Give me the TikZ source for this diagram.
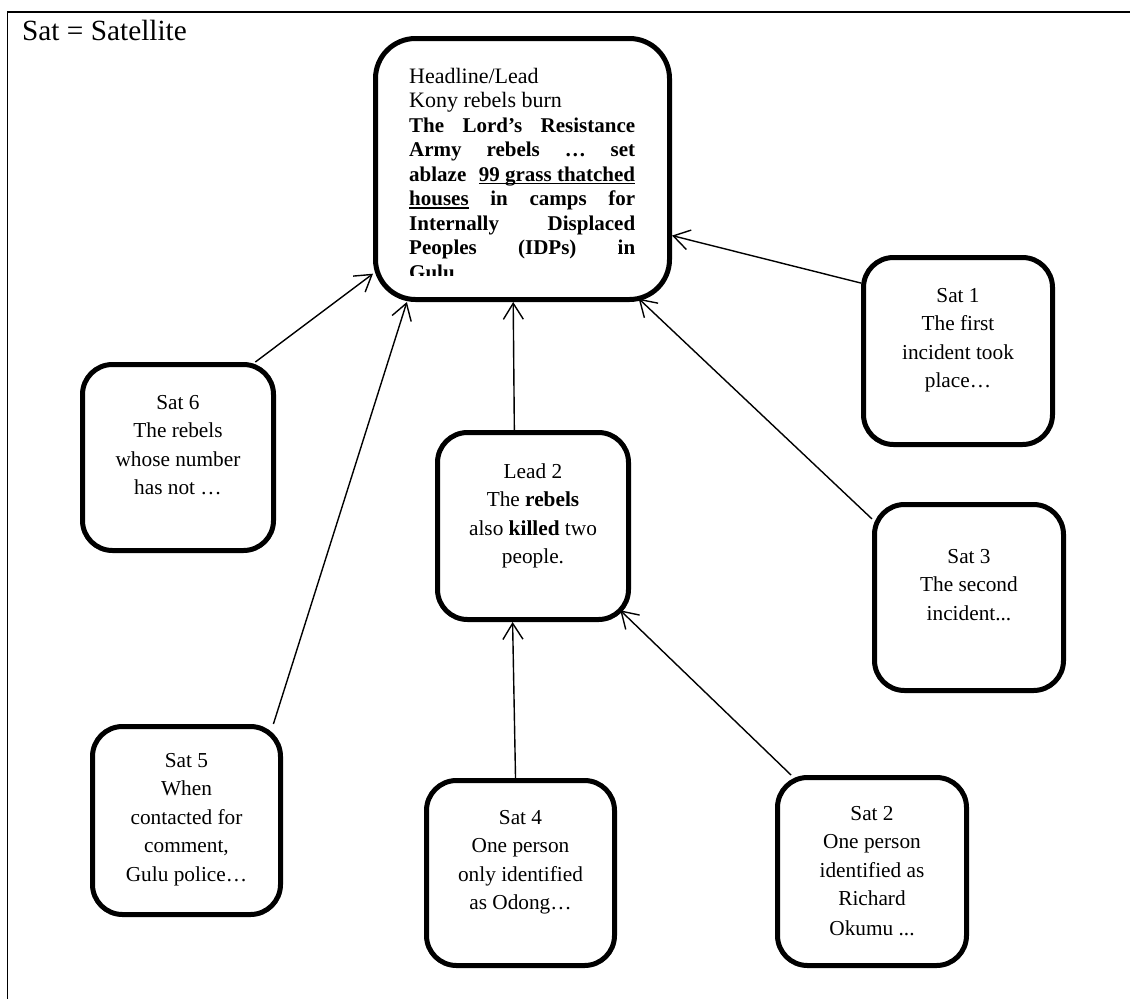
\documentclass[tikz,border=0pt]{standalone}
\usepackage{fontspec}
\setmainfont{Liberation Serif}
\usetikzlibrary{arrows.meta}
% underline drawn just under the baseline, crossing descenders
\newcommand\wordul[1]{\leavevmode\setbox0\hbox{#1}\rlap{\rule[-3pt]{\wd0}{1.3pt}}\box0\relax}
\tikzset{
  box/.style={draw, line width=5pt, rounded corners=30pt, inner sep=0pt},
  bigbox/.style={box, rounded corners=40pt},
  sattext/.style={anchor=base, inner sep=0pt,
    font=\fontsize{21.3}{28.5}\selectfont},
  link/.style={line width=1.4pt, -{Straight Barb[length=16pt,width=20pt]}}
}
\begin{document}
\begin{tikzpicture}[x=1pt,y=-1pt]
\useasboundingbox (0,0) rectangle (1130,999);
% frame
\draw[line width=1.5pt] (1130,12) -- (7.5,12) -- (7.5,999);
\node[anchor=base west, inner sep=0pt, font=\fontsize{29.3}{34}\selectfont] (legend) at (22,40) {Sat = Satellite};

% boxes
\node[bigbox, minimum width=294pt, minimum height=261pt] (head) at (522.5,169) {};
\node[box, minimum width=189pt, minimum height=187pt] (sat1) at (958,351) {};
\node[box, minimum width=191pt, minimum height=186pt] (sat6) at (178,457.5) {};
\node[box, minimum width=191pt, minimum height=187pt] (lead2) at (533,526) {};
\node[box, minimum width=189pt, minimum height=186pt] (sat3) at (969,597.5) {};
\node[box, minimum width=188pt, minimum height=188pt] (sat5) at (186.5,820.5) {};
\node[box, minimum width=188pt, minimum height=185pt] (sat4) at (520.5,873) {};
\node[box, minimum width=189pt, minimum height=188pt] (sat2) at (872,871.5) {};

% headline text, cut off at the bottom of the box
\begin{scope}
\clip (395,40) rectangle (650,275.5);
\node[anchor=base west, inner sep=0pt] (headtxt) at (409,83) {\parbox[t]{226pt}{%
\fontsize{22}{24.5}\selectfont Headline/Lead\\
Kony rebels burn\\
\bfseries\fontsize{21}{24.5}\selectfont
The Lord’s Resistance\linebreak
Army rebels … set\linebreak
ablaze \wordul{99 grass thatched}\linebreak
\wordul{houses} in camps for\linebreak
Internally Displaced\linebreak
Peoples (IDPs) in\linebreak
Gulu}};
\end{scope}

% satellite texts
\node[sattext] (sat1txt) at (958,302) {\parbox[t]{180pt}{\centering Sat 1\\ The first\\ incident took\\ place…}};
\node[sattext] (sat6txt) at (178,409) {\parbox[t]{180pt}{\centering Sat 6\\ The rebels\\ whose number\\ has not …}};
\node[sattext] (lead2txt) at (533,478) {\parbox[t]{180pt}{\centering Lead 2\\ The \textbf{rebels}\\ also \textbf{killed} two\\ people.}};
\node[sattext] (sat3txt) at (969,563) {\parbox[t]{180pt}{\centering Sat 3\\ The second\\ incident...}};
\node[sattext] (sat5txt) at (186.5,767) {\parbox[t]{180pt}{\centering Sat 5\\ When\\ contacted for\\ comment,\\ Gulu police…}};
\node[sattext] (sat4txt) at (520.5,824) {\parbox[t]{180pt}{\centering Sat 4\\ One person\\ only identified\\ as Odong…}};
\node[sattext] (sat2txt) at (872,820) {\parbox[t]{180pt}{\centering Sat 2\\ One person\\ identified as\\ Richard\\[1pt] Okumu ...}};

% connectors
\draw[link] (sat1.145) -- (head.-24.8);
\draw[link] (sat6.51.1) -- (head.215.8);
\draw[link] (sat5.48.7) -- (head.229.6);
\draw[link] (lead2.101.2) -- (head.266.3);
\draw[link, shorten >=-5pt] (sat3.141.5) -- (head.-48.7);
\draw[link] (sat4.93.9) -- (lead2.258.8);
\draw[link, shorten >=-15pt] (sat2.130) -- (lead2.-44);
\end{tikzpicture}
\end{document}
